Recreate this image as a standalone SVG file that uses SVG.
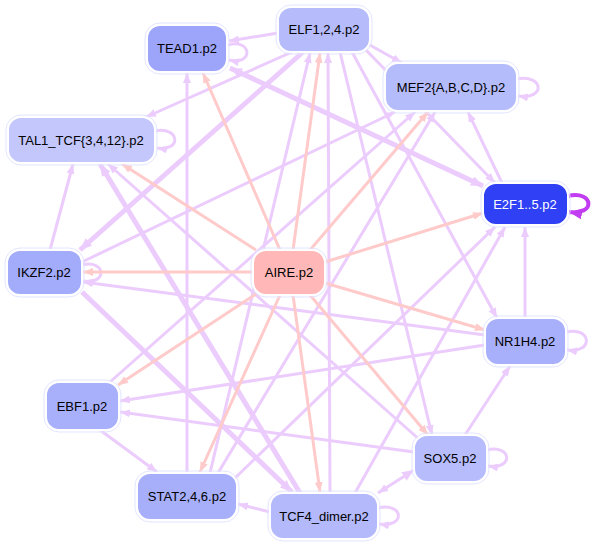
<svg xmlns="http://www.w3.org/2000/svg" width="598" height="546" viewBox="0 0 598 546">
<defs>
<style>
.e{fill:none;stroke:#ebccfd;stroke-width:3;marker-end:url(#ap)}
.t{stroke-width:5;marker-end:url(#apb)}
.p{fill:none;stroke:#ffcaca;stroke-width:3;marker-end:url(#ar)}
.n rect.f{stroke:#ffffff;stroke-width:2}
.n rect.o{fill:none;stroke:#e2e5ff;stroke-width:1}
.n text{font-family:"Liberation Sans",Arial,sans-serif;font-size:13px;fill:#000;text-anchor:middle}
</style>
<marker id="ap" markerUnits="userSpaceOnUse" markerWidth="11" markerHeight="9" refX="10" refY="4" orient="auto"><path d="M0,0 L10,4 L0,8 z" fill="#ebccfd"/></marker>
<marker id="apb" markerUnits="userSpaceOnUse" markerWidth="13" markerHeight="11" refX="12" refY="5" orient="auto"><path d="M0,0 L12,5 L0,10 z" fill="#ebccfd"/></marker>
<marker id="aps" markerUnits="userSpaceOnUse" markerWidth="13" markerHeight="11" refX="12" refY="5" orient="auto-start-reverse"><path d="M0,0 L12,5 L0,10 z" fill="#ebccfd"/></marker>
<marker id="ar" markerUnits="userSpaceOnUse" markerWidth="11" markerHeight="9" refX="10" refY="4" orient="auto"><path d="M0,0 L10,4 L0,8 z" fill="#ffcaca"/></marker>
<marker id="ad" markerUnits="userSpaceOnUse" markerWidth="14" markerHeight="12" refX="13" refY="5.5" orient="auto"><path d="M0,0 L13,5.5 L0,11 z" fill="#c23cf2"/></marker>
</defs>
<rect width="598" height="546" fill="#ffffff"/>
<g id="connectors">
<path class="e" d="M278,33 L229,41"/>
<path class="e" d="M228,45 C252,38 254,66 229,60"/>
<path class="e" d="M368,44 L402,63"/>
<path class="e" d="M517,79 C544,74 546,100 518,96"/>
<path class="e" d="M155,131 C180,126 182,152 157,148"/>
<path class="e" d="M292,52 L146,117"/>
<path class="e t" d="M303,52 L80,250"/>
<path class="e" d="M82,262 L395,112"/>
<path class="e t" d="M230,68 L483,186" marker-start="url(#aps)"/>
<path class="e" d="M366,50 L495,183"/>
<path class="e" d="M502,183 L468,112"/>
<path class="e" d="M525,318 L525,227"/>
<path class="e" d="M566,332 C592,326 594,354 567,350"/>
<path fill="none" stroke="#c23cf2" stroke-width="4" marker-end="url(#ad)" d="M568,196 C594,190 596,216 569,212"/>
<path class="e" d="M485,335 L83,282"/>
<path class="e" d="M485,345 L120,401"/>
<path class="e" d="M414,452 L120,412"/>
<path class="e" d="M465,435 L510,366"/>
<path class="e" d="M487,450 C512,444 514,470 488,466"/>
<path class="e" d="M414,470 L378,493" marker-start="url(#aps)"/>
<path class="e" d="M270,512 L238,504"/>
<path class="e" d="M378,508 C404,502 406,528 379,524"/>
<path class="e" d="M100,430 L157,472"/>
<path class="e" d="M187,473 L187,73"/>
<path class="e" d="M210,473 L310,53"/>
<path class="e" d="M218,473 L435,112"/>
<path class="e" d="M235,478 L495,227"/>
<path class="e" d="M355,493 L505,227"/>
<path class="e" d="M330,493 L328,53"/>
<path class="e t" d="M300,493 L100,164"/>
<path class="e" d="M420,440 L108,164"/>
<path class="e" d="M82,265 C106,259 108,285 83,281"/>
<path class="e" d="M50,250 L73,164"/>
<path class="e" d="M340,52 L432,435"/>
<path class="e" d="M352,52 L497,318"/>
<path class="e" d="M110,382 L415,112"/>
<path class="e t" d="M82,292 L292,492"/>
<path class="p" d="M280,250 L203,73"/>
<path class="p" d="M293,250 L320,53"/>
<path class="p" d="M310,250 L428,112"/>
<path class="p" d="M256,250 L122,164"/>
<path class="p" d="M325,262 L483,213"/>
<path class="p" d="M253,272 L83,272"/>
<path class="p" d="M325,283 L485,330"/>
<path class="p" d="M256,294 L118,385"/>
<path class="p" d="M280,295 L200,472"/>
<path class="p" d="M293,295 L320,492"/>
<path class="p" d="M310,295 L428,435"/>
</g>
<g id="TEAD1" class="n"><rect class="o" x="145" y="23" width="84" height="51" rx="15"/><rect class="f" x="147" y="25" width="80" height="47" rx="13" fill="#9da5fb"/><text x="187" y="53">TEAD1.p2</text></g>
<g id="ELF1" class="n"><rect class="o" x="276" y="5" width="96" height="49" rx="15"/><rect class="f" x="278" y="7" width="92" height="45" rx="13" fill="#b5bbfb"/><text x="324" y="34">ELF1,2,4.p2</text></g>
<g id="MEF2" class="n"><rect class="o" x="383" y="61" width="136" height="52" rx="15"/><rect class="f" x="385" y="63" width="132" height="48" rx="13" fill="#b5bcfc"/><text x="451" y="92">MEF2{A,B,C,D}.p2</text></g>
<g id="TAL1" class="n"><rect class="o" x="6" y="115" width="151" height="50" rx="15"/><rect class="f" x="8" y="117" width="147" height="46" rx="13" fill="#c3c7fc"/><text x="81" y="145">TAL1_TCF{3,4,12}.p2</text></g>
<g id="E2F1" class="n"><rect class="o" x="481" y="181" width="89" height="46" rx="15" stroke="#aab2ff"/><rect class="f" x="483" y="183" width="85" height="42" rx="13" fill="#3040f5"/><text x="525" y="209" style="fill:#ffffff">E2F1..5.p2</text></g>
<g id="IKZF2" class="n"><rect class="o" x="5" y="248" width="79" height="49" rx="15"/><rect class="f" x="7" y="250" width="75" height="45" rx="13" fill="#a3abfb"/><text x="44" y="277">IKZF2.p2</text></g>
<g id="AIRE" class="n"><rect class="o" x="251" y="248" width="76" height="49" rx="15"/><rect class="f" x="253" y="250" width="72" height="45" rx="13" fill="#ffb7b7"/><text x="289" y="277">AIRE.p2</text></g>
<g id="NR1H4" class="n"><rect class="o" x="483" y="316" width="85" height="51" rx="15"/><rect class="f" x="485" y="318" width="81" height="47" rx="13" fill="#a9b0fb"/><text x="525" y="346">NR1H4.p2</text></g>
<g id="EBF1" class="n"><rect class="o" x="44" y="380" width="77" height="52" rx="15"/><rect class="f" x="46" y="382" width="73" height="48" rx="13" fill="#a9b0fb"/><text x="82" y="411">EBF1.p2</text></g>
<g id="STAT2" class="n"><rect class="o" x="135" y="471" width="104" height="51" rx="15"/><rect class="f" x="137" y="473" width="100" height="47" rx="13" fill="#a7affb"/><text x="187" y="501">STAT2,4,6.p2</text></g>
<g id="TCF4" class="n"><rect class="o" x="268" y="491" width="112" height="50" rx="15"/><rect class="f" x="270" y="493" width="108" height="46" rx="13" fill="#b3b9fb"/><text x="324" y="521">TCF4_dimer.p2</text></g>
<g id="SOX5" class="n"><rect class="o" x="412" y="433" width="77" height="51" rx="15"/><rect class="f" x="414" y="435" width="73" height="47" rx="13" fill="#b7bdfc"/><text x="450" y="463">SOX5.p2</text></g>
</svg>
